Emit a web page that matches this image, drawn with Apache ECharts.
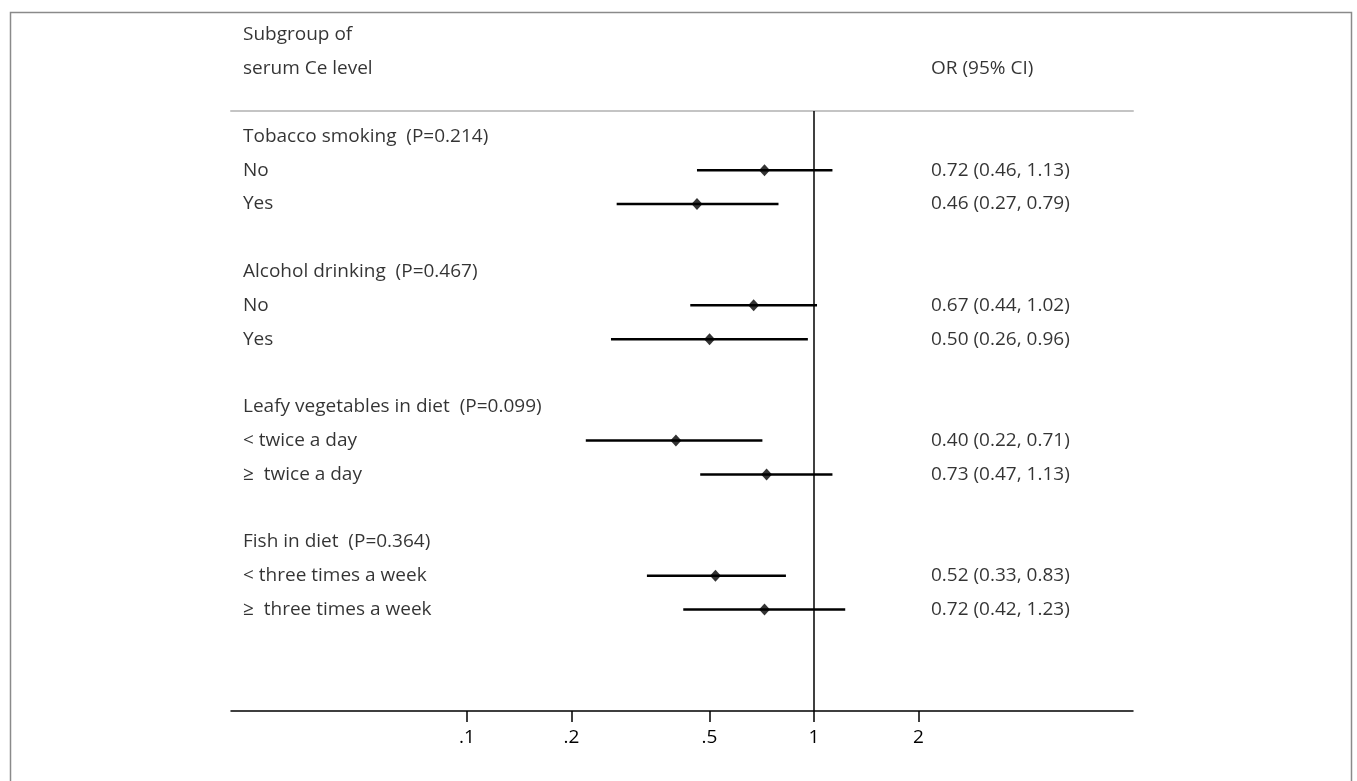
<!DOCTYPE html>
<html>
<head>
<meta charset="utf-8">
<script src="https://cdn.jsdelivr.net/npm/echarts@6/dist/echarts.min.js"></script>
<style>
html,body{margin:0;padding:0;background:#fff;}
#chart{width:1357px;height:781px;}
</style>
</head>
<body>
<div id="chart"></div>
<script>
// ---- data ----
const rowLabels = [
  'Tobacco smoking  (P=0.214)', 'No', 'Yes', '',
  'Alcohol drinking  (P=0.467)', 'No', 'Yes', '',
  'Leafy vegetables in diet  (P=0.099)', '< twice a day', '\u2265  twice a day', '',
  'Fish in diet  (P=0.364)', '< three times a week', '\u2265  three times a week'
];
const orValues   = [null, 0.72, 0.46, null, null, 0.67, 0.50, null, null, 0.40, 0.73, null, null, 0.52, 0.72];
const lowerCI    = [null, 0.46, 0.27, null, null, 0.44, 0.26, null, null, 0.22, 0.47, null, null, 0.33, 0.42];
const upperCI    = [null, 1.13, 0.79, null, null, 1.02, 0.96, null, null, 0.71, 1.13, null, null, 0.83, 1.23];
const ciText     = ['', '0.72 (0.46, 1.13)', '0.46 (0.27, 0.79)', '', '',
                    '0.67 (0.44, 1.02)', '0.50 (0.26, 0.96)', '', '',
                    '0.40 (0.22, 0.71)', '0.73 (0.47, 1.13)', '', '',
                    '0.52 (0.33, 0.83)', '0.72 (0.42, 1.23)'];
const headerLeft = ['Subgroup of', 'serum Ce level'];
const headerRight = 'OR (95% CI)';
const tickValues = [0.1, 0.2, 0.5, 1, 2];
const tickLabels = ['.1', '.2', '.5', '1', '2'];
const xMinOR = 0.0209, xMaxOR = 8.30;
const refValue = 1;

// ---- build ----
const L = Math.log10;
const xmin = L(xMinOR), xmax = L(xMaxOR);
const FONT = '"Open Sans", "Noto Sans", sans-serif';
const FS = 19;

const ciData = [], ptData = [], leftText = [], rightText = [];
rowLabels.forEach((t, i) => {
  if (t) leftText.push([xmin, i, t]);
  if (ciText[i]) rightText.push([xmax, i, ciText[i]]);
  if (orValues[i] != null) {
    ciData.push([L(lowerCI[i]), L(upperCI[i]), i]);
    ptData.push([L(orValues[i]), i]);
  }
});
headerLeft.forEach((t, k) => leftText.push([xmin, k - headerLeft.length - 1, t]));
rightText.push([xmax, -2, headerRight]);

const tickLogs = tickValues.map(L);
function fmt(v) {
  const k = tickLogs.findIndex(t => Math.abs(t - v) < 1e-6);
  return k >= 0 ? tickLabels[k] : '';
}

const chart = echarts.init(document.getElementById('chart'), null, {renderer: 'canvas'});
const textSeries = (data, pos, offset) => ({
  type: 'scatter', data, symbolSize: 0, clip: false, silent: true,
  label: {
    show: true, position: pos, distance: 0, offset,
    formatter: p => p.data[2], color: '#000',
    fontFamily: FONT, fontSize: FS, align: 'left', verticalAlign: 'middle'
  }
});

chart.setOption({
  animation: false,
  backgroundColor: '#fff',
  graphic: [{
    type: 'rect', left: 8, top: 10,
    shape: {width: 1341, height: 800},
    style: {fill: 'none', stroke: '#8a8a8a', lineWidth: 1.5}
  }],
  grid: {left: 231, right: 224, top: 111, bottom: 70},
  xAxis: [{
    type: 'value', min: xmin, max: xmax, position: 'bottom',
    axisLine: {show: true, onZero: false, lineStyle: {color: '#000', width: 1.5}},
    axisTick: {show: true, length: 11, lineStyle: {color: '#000', width: 1.5}, customValues: tickLogs},
    axisLabel: {customValues: tickLogs, formatter: fmt, color: '#000', fontFamily: FONT, fontSize: FS, margin: 17},
    splitLine: {show: false}
  }, {
    type: 'value', position: 'top', min: xmin, max: xmax,
    axisLine: {show: true, onZero: false, lineStyle: {color: '#c4c4c4', width: 2}},
    axisTick: {show: false}, axisLabel: {show: false}, splitLine: {show: false}
  }],
  yAxis: {
    type: 'value', inverse: true, min: -0.75, max: 17,
    axisLine: {show: false}, axisTick: {show: false}, axisLabel: {show: false}, splitLine: {show: false}
  },
  series: [
    {
      type: 'custom', data: ciData, silent: true,
      renderItem: (params, api) => {
        const a = api.coord([api.value(0), api.value(2)]);
        const b = api.coord([api.value(1), api.value(2)]);
        return {type: 'line', shape: {x1: a[0], y1: a[1], x2: b[0], y2: b[1]},
                style: {stroke: '#000', lineWidth: 2.5}};
      },
      encode: {x: [0, 1], y: 2},
      markLine: {
        silent: true, symbol: 'none', label: {show: false},
        lineStyle: {color: '#000', width: 1.5, type: 'solid'},
        data: [{xAxis: L(refValue)}]
      }
    },
    {
      type: 'scatter', data: ptData, symbol: 'diamond', symbolSize: [11, 12],
      itemStyle: {color: '#000'}, silent: true
    },
    textSeries(leftText, 'right', [12, 0]),
    textSeries(rightText, 'right', [-202, 0])
  ]
});
</script>
</body>
</html>
